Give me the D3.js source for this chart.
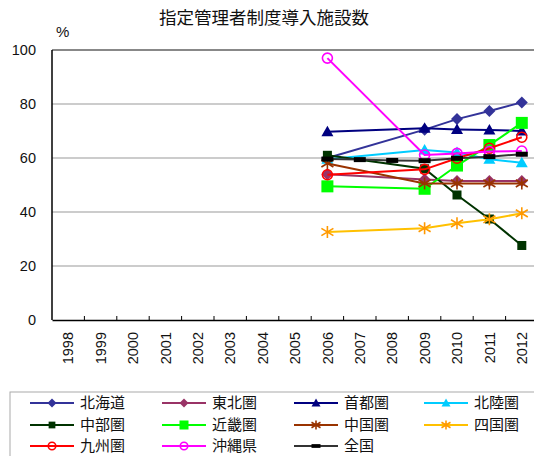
<!DOCTYPE html>
<html>
<head>
<meta charset="utf-8">
<script src="https://cdn.jsdelivr.net/npm/d3@7"></script>
<style>
    body { margin: 0; background: #fff; }
    text { font-family: "Liberation Sans", Arial, sans-serif; }
    .jp { font-family: "Noto Sans CJK JP", sans-serif; }
</style>
</head>
<body>
<div id="chart"></div>
<script>

// == DATA == //
let years = ['1998','1999','2000','2001','2002','2003','2004','2005','2006','2007','2008','2009','2010','2011','2012'];
let yTicks = [0, 20, 40, 60, 80, 100];

// values per year, null = no survey
let hokkaido = [null,null,null,null,null,null,null,null,60.0,null,null,70.5,74.4,77.4,80.6];
let tohoku   = [null,null,null,null,null,null,null,null,54.0,null,null,52.0,51.5,51.5,51.5];
let shuto    = [null,null,null,null,null,null,null,null,69.7,null,null,71.0,70.6,70.4,70.0];
let hokuriku = [null,null,null,null,null,null,null,null,59.5,null,null,63.0,62.0,59.5,58.2];
let chubu    = [null,null,null,null,null,null,null,null,61.0,null,null,56.0,46.3,37.4,27.6];
let kinki    = [null,null,null,null,null,null,null,null,49.5,null,null,48.6,57.2,64.8,73.0];
let chugoku  = [null,null,null,null,null,null,null,null,58.0,null,null,50.6,50.6,50.6,50.6];
let shikoku  = [null,null,null,null,null,null,null,null,32.6,null,null,34.0,35.8,37.3,39.5];
let kyushu   = [null,null,null,null,null,null,null,null,53.8,null,null,55.8,59.9,63.6,67.7];
let okinawa  = [null,null,null,null,null,null,null,null,97.0,null,null,61.1,61.7,62.4,62.6];
let zenkoku  = [null,null,null,null,null,null,null,null,59.6,59.4,59.1,59.0,59.9,60.5,61.4];

let seriesNames = ['北海道','東北圏','首都圏','北陸圏','中部圏','近畿圏','中国圏','四国圏','九州圏','沖縄県','全国'];
let seriesValues = [hokkaido, tohoku, shuto, hokuriku, chubu, kinki, chugoku, shikoku, kyushu, okinawa, zenkoku];

// style per series: line colour, marker colour, marker shape
let styles = [
    {line: '#333399', mark: '#333399', shape: 'diamond'},
    {line: '#993366', mark: '#993366', shape: 'diamond'},
    {line: '#000080', mark: '#000080', shape: 'triangle'},
    {line: '#00CCFF', mark: '#00CCFF', shape: 'triangle'},
    {line: '#003300', mark: '#003300', shape: 'squareSmall'},
    {line: '#00FF00', mark: '#00FF00', shape: 'square'},
    {line: '#993300', mark: '#993300', shape: 'star'},
    {line: '#FFC000', mark: '#FF9900', shape: 'star'},
    {line: '#FF0000', mark: '#FF0000', shape: 'circle'},
    {line: '#FF00FF', mark: '#FF00FF', shape: 'circle'},
    {line: '#333333', mark: '#000000', shape: 'dash'}
];

// == SVG == //
let width = 534, height = 456;
let plot = {left: 52, right: 538, top: 50, bottom: 320};

let svg = d3.select('#chart').append('svg')
    .attr('width', width)
    .attr('height', height);

// scales
let x = d3.scaleBand().domain(years).range([plot.left, plot.right]);
let y = d3.scaleLinear().domain([0, 100]).range([plot.bottom, plot.top]);
let cx = d => x(d) + x.bandwidth() / 2;

// title
svg.append('text')
    .attr('class', 'jp')
    .attr('x', 264)
    .attr('y', 24)
    .attr('text-anchor', 'middle')
    .attr('font-size', '17.5px')
    .style('fill', '#111')
    .text('指定管理者制度導入施設数');

// unit
svg.append('text')
    .attr('x', 56)
    .attr('y', 37)
    .attr('font-size', '15px')
    .style('fill', '#111')
    .text('%');

// gridlines
svg.append('g')
    .selectAll('line')
    .data(yTicks.filter(d => d > 0))
    .enter().append('line')
    .attr('x1', plot.left)
    .attr('x2', width)
    .attr('y1', d => y(d))
    .attr('y2', d => y(d))
    .attr('stroke', d => d === 100 ? '#888' : '#999')
    .attr('stroke-width', d => d === 100 ? 2 : 1.2);

// y labels
svg.append('g')
    .selectAll('text')
    .data(yTicks)
    .enter().append('text')
    .attr('x', 36)
    .attr('y', d => y(d))
    .attr('dy', '0.35em')
    .attr('text-anchor', 'end')
    .attr('font-size', '14.5px')
    .style('fill', '#111')
    .text(d => d);

// axes lines
svg.append('line')
    .attr('x1', plot.left).attr('x2', plot.left)
    .attr('y1', plot.top).attr('y2', plot.bottom)
    .attr('stroke', '#000').attr('stroke-width', 1.5);

let xAxis = svg.append('g')
    .attr('transform', `translate(0, ${plot.bottom})`)
    .call(d3.axisBottom(x).tickSize(0).tickFormat(''));
xAxis.select('.domain').attr('stroke', '#000').attr('stroke-width', 1.5);

// inner ticks between categories
svg.append('g')
    .selectAll('line')
    .data(years.slice(1))
    .enter().append('line')
    .attr('x1', d => x(d))
    .attr('x2', d => x(d))
    .attr('y1', plot.bottom)
    .attr('y2', plot.bottom - 4)
    .attr('stroke', '#000');

// x labels (rotated)
svg.append('g')
    .selectAll('text')
    .data(years)
    .enter().append('text')
    .attr('transform', d => `translate(${cx(d)}, 332) rotate(-90)`)
    .attr('dy', '0.36em')
    .attr('text-anchor', 'end')
    .attr('font-size', '14.5px')
    .style('fill', '#111')
    .text(d => d);

// == MARKERS == //
function drawMarker(g, shape, color, s) {
    if (shape === 'diamond') {
        g.append('path').attr('d', `M0,${-6*s}L${6*s},0L0,${6*s}L${-6*s},0Z`).attr('fill', color);
    } else if (shape === 'triangle') {
        g.append('path').attr('d', `M0,${-6*s}L${6*s},${4.5*s}L${-6*s},${4.5*s}Z`).attr('fill', color);
    } else if (shape === 'square') {
        g.append('rect').attr('x', -6*s).attr('y', -6*s).attr('width', 12*s).attr('height', 12*s).attr('fill', color);
    } else if (shape === 'squareSmall') {
        g.append('rect').attr('x', -4.5*s).attr('y', -4.5*s).attr('width', 9*s).attr('height', 9*s).attr('fill', color);
    } else if (shape === 'star') {
        let r = 6 * s;
        let p = `M0,${-r}L0,${r}M${-r},${-r*0.6}L${r},${r*0.6}M${-r},${r*0.6}L${r},${-r*0.6}`;
        g.append('path').attr('d', p).attr('stroke', color).attr('stroke-width', 1.6).attr('fill', 'none');
    } else if (shape === 'circle') {
        g.append('circle').attr('r', 5*s).attr('fill', 'none').attr('stroke', color).attr('stroke-width', 1.6);
    } else if (shape === 'dash') {
        g.append('rect').attr('x', -6*s).attr('y', -2.5*s).attr('width', 12*s).attr('height', 5*s).attr('fill', color);
    }
}

// == LINES == //
let line = d3.line()
    .x(d => cx(d.year))
    .y(d => y(d.value));

seriesValues.forEach((vals, i) => {
    let pts = years.map((yr, j) => ({year: yr, value: vals[j]})).filter(d => d.value !== null);
    let st = styles[i];
    let g = svg.append('g').attr('class', 'series');

    g.append('path')
        .datum(pts)
        .attr('d', line)
        .attr('fill', 'none')
        .attr('stroke', st.line)
        .attr('stroke-width', 2);

    pts.forEach(d => {
        let m = g.append('g').attr('transform', `translate(${cx(d.year)}, ${y(d.value)})`);
        drawMarker(m, st.shape, st.mark, 1);
    });
});

// == LEGEND == //
svg.append('rect')
    .attr('x', 10)
    .attr('y', 392)
    .attr('width', 540)
    .attr('height', 80)
    .attr('fill', 'none')
    .attr('stroke', '#aaa');

let legendCols = [30, 162, 294, 424];
let legendRows = [403, 425, 446];

seriesNames.forEach((name, i) => {
    let lx = legendCols[i % 4];
    let ly = legendRows[Math.floor(i / 4)];
    let st = styles[i];
    let g = svg.append('g').attr('transform', `translate(${lx}, ${ly})`);
    g.append('line')
        .attr('x1', 0).attr('x2', 44)
        .attr('stroke', st.line)
        .attr('stroke-width', 2);
    let m = g.append('g').attr('transform', 'translate(22, 0)');
    drawMarker(m, st.shape, st.mark, 0.75);
    g.append('text')
        .attr('class', 'jp')
        .attr('x', 50)
        .attr('dy', '0.35em')
        .attr('font-size', '15px')
        .style('fill', '#111')
        .text(name);
});

</script>
</body>
</html>
